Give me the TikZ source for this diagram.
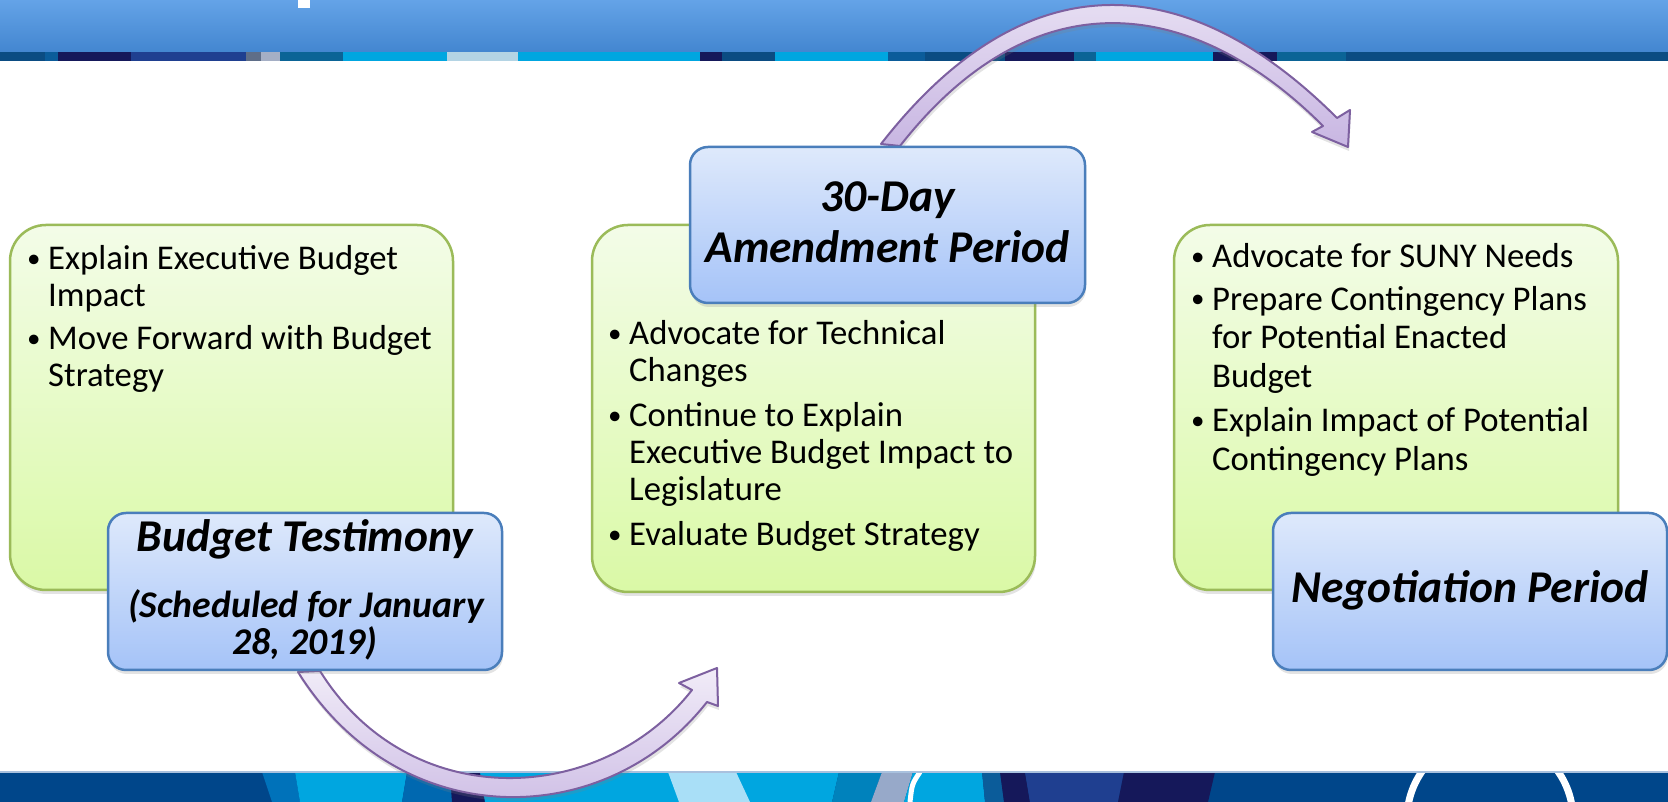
\documentclass[tikz,border=0pt]{standalone}
\usepackage{fontspec}
\setmainfont{Carlito}
\usetikzlibrary{shadows}

\definecolor{bannertop}{HTML}{64A3E7}
\definecolor{bannerbot}{HTML}{4386D0}
\definecolor{deepteal}{HTML}{0B4C82}
\definecolor{navy}{HTML}{15185A}
\definecolor{royal}{HTML}{1F3F90}
\definecolor{slate}{HTML}{5F6E88}
\definecolor{silver}{HTML}{A5AFC5}
\definecolor{teal}{HTML}{0B6496}
\definecolor{sky}{HTML}{00A6E0}
\definecolor{pale}{HTML}{B4D4E4}
\definecolor{ocean}{HTML}{0B5C9A}
\definecolor{deepblue}{HTML}{00468A}
\definecolor{midblue}{HTML}{0072BA}
\definecolor{midblue2}{HTML}{0068B0}
\definecolor{lightcyan}{HTML}{A9DFF7}
\definecolor{seablue}{HTML}{0082BC}
\definecolor{greyblue}{HTML}{97A9C9}
\definecolor{bandline}{HTML}{A9C1DE}
\definecolor{boxgreen}{HTML}{9BBB59}
\definecolor{greentop}{HTML}{F3FCE8}
\definecolor{greenbot}{HTML}{DAF9A6}
\definecolor{boxblue}{HTML}{4A7EBB}
\definecolor{bluetop}{HTML}{DEE9FB}
\definecolor{bluebot}{HTML}{A5C3F8}
\definecolor{arrowline}{HTML}{7D60A0}
\definecolor{arrowtop}{HTML}{F1ECF8}
\definecolor{arrowbot}{HTML}{C8B6E2}

\newcommand{\bul}{\makebox[21pt][l]{\fontsize{27}{27}\selectfont\raisebox{2.5pt}{\textbullet}}}

\begin{document}
\begin{tikzpicture}[x=1pt,y=1pt,
    softshadow/.style={drop shadow={shadow xshift=1pt,shadow yshift=-4pt,opacity=.22}},
    greenbox/.style={rectangle, draw=boxgreen, line width=2.5pt, rounded corners=36pt,
      top color=greentop, bottom color=greenbot, softshadow},
    bluebox/.style={rectangle, draw=boxblue, line width=2.5pt, rounded corners=18pt,
      top color=bluetop, bottom color=bluebot, softshadow},
    items/.style={anchor=base west, inner sep=0pt, font=\fontsize{34.7}{37}\selectfont},
    heading/.style={anchor=base, inner sep=0pt, font=\fontsize{45.5}{50}\selectfont\bfseries\itshape},
    subheading/.style={anchor=base, inner sep=0pt, font=\fontsize{37.7}{40}\selectfont\bfseries\itshape},
    bigarrow/.style={draw=arrowline, line width=2pt, line join=round,
      top color=arrowtop, bottom color=arrowbot, softshadow}]

  \useasboundingbox (0,0) rectangle (1668,802);
  \fill[white] (0,0) rectangle (1668,802);

  % top banner
  \shade[top color=bannertop, bottom color=bannerbot] (0,750) rectangle (1668,802);
  \foreach \xa/\xb/\col in {0/45/deepteal, 45/58/ocean, 58/131/navy, 131/246/royal,
      246/261/slate, 261/280/silver, 280/343/teal, 343/447/sky, 447/518/pale,
      518/700/sky, 700/722/navy, 722/775/deepteal, 775/888/sky, 888/925/ocean,
      925/1005/deepteal, 1005/1074/navy, 1074/1096/teal, 1096/1213/sky,
      1213/1277/navy, 1277/1346/teal, 1346/1668/deepteal}
    \fill[\col] (\xa,740) rectangle (\xb,750);
  \draw[white, line width=1pt] (0,740) -- (1668,740);
  \fill[white] (298,794) rectangle (310,802);

  % bottom band
  \fill[deepblue] (0,0) rectangle (1668,30);
  \fill[midblue] (262,30) -- (295,30) -- (300,0) -- (272,0) -- cycle;
  \fill[sky] (295,30) -- (407,30) -- (402,0) -- (300,0) -- cycle;
  \fill[midblue2] (407,30) -- (450,30) -- (452,0) -- (402,0) -- cycle;
  \fill[navy] (450,30) -- (480,30) -- (485,0) -- (452,0) -- cycle;
  \fill[sky] (480,30) -- (839,30) -- (832,0) -- (485,0) -- cycle;
  \fill[lightcyan] (668,30) -- (736,30) -- (750,0) -- (679,0) -- cycle;
  \fill[seablue] (839,30) -- (882,30) -- (871,0) -- (832,0) -- cycle;
  \fill[greyblue] (882,30) -- (913,30) -- (904,0) -- (871,0) -- cycle;
  \fill[sky] (913,30) -- (982,30) -- (985,0) -- (904,0) -- cycle;
  \fill[ocean] (982,30) -- (1000,30) -- (1004,0) -- (985,0) -- cycle;
  \fill[navy] (1000,30) -- (1025,30) -- (1030,0) -- (1004,0) -- cycle;
  \fill[royal] (1025,30) -- (1124,30) -- (1118,0) -- (1030,0) -- cycle;
  \fill[navy] (1124,30) -- (1215,30) -- (1208,0) -- (1118,0) -- cycle;
  \draw[white, line width=5pt] (920,30) .. controls (912,18) .. (910,0);
  \begin{scope}
    \clip (0,0) rectangle (1668,30);
    \draw[white, line width=7pt] (1490,-17) circle[radius=83];
  \end{scope}
  \draw[bandline, line width=1.5pt] (0,30) -- (1668,30);

  % curved arrows
  \path[bigarrow] (298,130) .. controls (400,-33) and (605,-30) .. (707,100)
    -- (718,96) -- (717,134) -- (679,119) -- (692,112)
    .. controls (601,-4) and (410,-13) .. (320,131) -- cycle;
  \path[bigarrow] (881,658) .. controls (1033,853) and (1196,825) .. (1337,684)
    -- (1350,692) -- (1348,655) -- (1312,670) -- (1323,676)
    .. controls (1193,806) and (1034,827) .. (900,656) -- cycle;

  % budget testimony
  \node at (231.5,394.5) [greenbox, minimum width=443pt, minimum height=365pt] (testimony-box) {};
  \node at (27,532) [items] (testimony-items) {\begin{tabular}[t]{@{}l@{}l@{}}
      \bul & Explain Executive Budget\\
           & Impact\\[6pt]
      \bul & Move Forward with Budget\\
           & Strategy
    \end{tabular}};
  \node at (305,210.5) [bluebox, minimum width=394pt, minimum height=157pt] (testimony) {};
  \node at (305,250) [heading] (testimony-title) {Budget Testimony};
  \node at (306,184) [subheading] (testimony-date) {(Scheduled for January};
  \node at (305,147) [subheading] (testimony-year) {28, 2019)};

  % amendment period
  \node at (813.5,393.5) [greenbox, minimum width=443pt, minimum height=367pt] (amendment-box) {};
  \node at (608,457) [items] (amendment-items) {\begin{tabular}[t]{@{}l@{}l@{}}
      \bul & Advocate for Technical\\
           & Changes\\[8pt]
      \bul & Continue to Explain\\
           & Executive Budget Impact to\\
           & Legislature\\[8pt]
      \bul & Evaluate Budget Strategy
    \end{tabular}};
  \node at (887.5,577) [bluebox, minimum width=395pt, minimum height=156pt] (amendment) {};
  \node at (887.5,590) [heading] (amendment-title) {30-Day};
  \node at (887.5,539) [heading] (amendment-name) {Amendment Period};

  % negotiation period
  \node at (1396,394.5) [greenbox, minimum width=444pt, minimum height=365pt] (negotiation-box) {};
  \node at (1191,534) [items, font=\fontsize{34.7}{38.5}\selectfont] (negotiation-items) {\begin{tabular}[t]{@{}l@{}l@{}}
      \bul & Advocate for SUNY Needs\\[4pt]
      \bul & Prepare Contingency Plans\\
           & for Potential Enacted\\
           & Budget\\[6pt]
      \bul & Explain Impact of Potential\\
           & Contingency Plans
    \end{tabular}};
  \node at (1470,210.5) [bluebox, minimum width=394pt, minimum height=157pt] (negotiation) {};
  \node at (1470,199) [heading] (negotiation-title) {Negotiation Period};
\end{tikzpicture}
\end{document}
